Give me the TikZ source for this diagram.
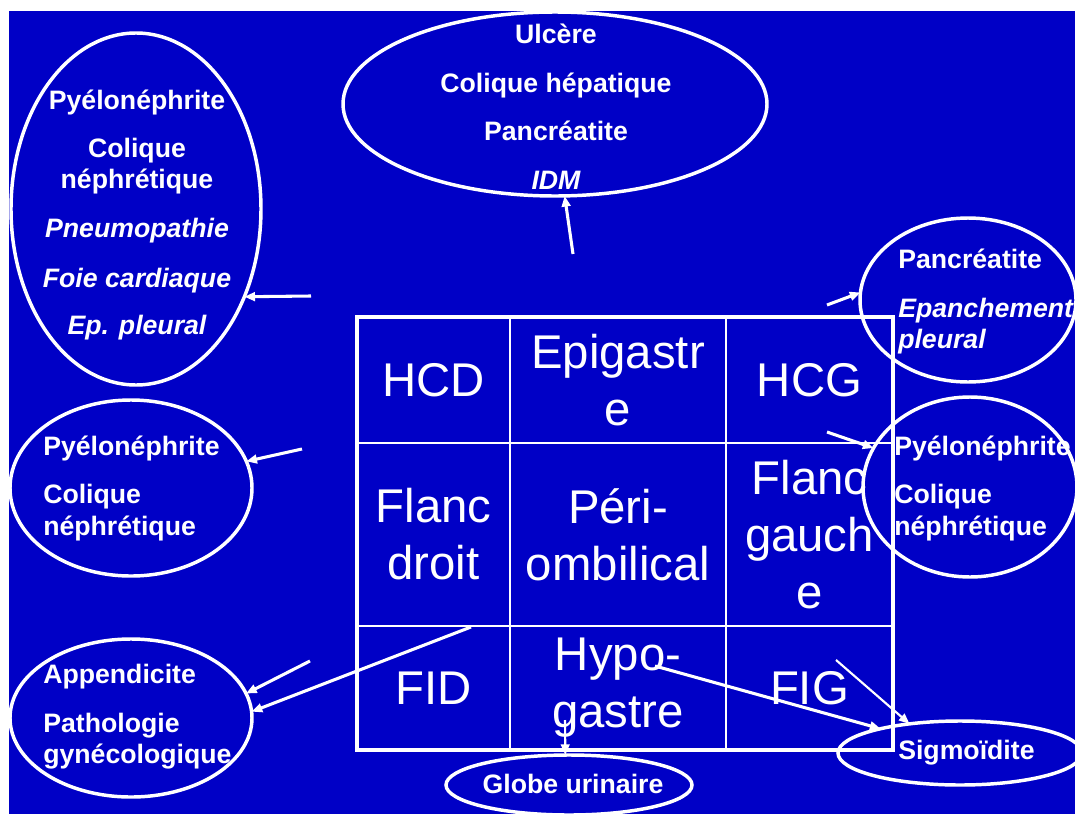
\documentclass[tikz,border=0pt]{standalone}
\usepackage{fontspec}
\setmainfont{Liberation Sans}
\usetikzlibrary{shapes.geometric,arrows.meta}
\definecolor{bg}{RGB}{0,0,198}
\begin{document}
\begin{tikzpicture}[x=0.75pt,y=-0.75pt,
  ell/.style={draw=white,line width=2.6pt,ellipse,inner sep=0pt,outer sep=0pt},
  lbl/.style={text=white,inner sep=0pt,font=\bfseries\fontsize{20}{24}\selectfont},
  lbli/.style={lbl,font=\bfseries\itshape\fontsize{20}{24}\selectfont},
  cell/.style={draw=white,line width=1.2pt,rectangle,inner sep=0pt,outer sep=0pt,text=white,align=center,font=\fontsize{35.5}{42.75}\selectfont},
  arr/.style={draw=white,line width=2.3pt,-{Triangle[length=8pt,width=6.5pt]}},
  arrthin/.style={arr,line width=1.6pt}]
\useasboundingbox (0,0) rectangle (1075,814);
\fill[white] (0,0) rectangle (1075,814);
\fill[bg] (9,11) rectangle (1075,814);

% ellipses
\node[ell,minimum width=187.5pt,minimum height=264pt] (ell1) at (136,209) {};
\node[ell,minimum width=318pt,minimum height=138pt] (ell2) at (555,104) {};
\node[ell,minimum width=162pt,minimum height=123pt] (ell3) at (968,300) {};
\node[ell,minimum width=160.5pt,minimum height=135pt] (ell4) at (970,487) {};
\node[ell,minimum width=181.5pt,minimum height=132pt] (ell5) at (131,488) {};
\node[ell,minimum width=181.5pt,minimum height=118.5pt] (ell6) at (131,718) {};
\node[ell,minimum width=184.5pt,minimum height=45pt] (ell7) at (569,785) {};
\node[ell,minimum width=183pt,minimum height=48pt] (ell8) at (960,753) {};

% ellipse texts
\node[lbl,anchor=base] (e1a) at (137,109) {Pyélonéphrite};
\node[lbl,anchor=base] (e1b) at (137,157) {Colique};
\node[lbl,anchor=base] (e1c) at (137,188) {néphrétique};
\node[lbli,anchor=base] (e1d) at (137,237) {Pneumopathie};
\node[lbli,anchor=base] (e1e) at (137,287) {Foie cardiaque};
\node[lbli,anchor=base] (e1f) at (137,334) {Ep. pleural};

\node[lbl,anchor=base] (e2a) at (556,43) {Ulcère};
\node[lbl,anchor=base] (e2b) at (556,92) {Colique hépatique};
\node[lbl,anchor=base] (e2c) at (556,140) {Pancréatite};
\node[lbli,anchor=base] (e2d) at (556,189) {IDM};

\node[lbl,anchor=base west] (e3a) at (898,268) {Pancréatite};
\node[lbli,anchor=base west] (e3b) at (898,317) {Epanchement};
\node[lbli,anchor=base west] (e3c) at (898,348) {pleural};

\node[lbl,anchor=base west] (e4a) at (894,455) {Pyélonéphrite};
\node[lbl,anchor=base west] (e4b) at (894,503) {Colique};
\node[lbl,anchor=base west] (e4c) at (894,535) {néphrétique};

\node[lbl,anchor=base west] (e5a) at (43,455) {Pyélonéphrite};
\node[lbl,anchor=base west] (e5b) at (43,503) {Colique};
\node[lbl,anchor=base west] (e5c) at (43,535) {néphrétique};

\node[lbl,anchor=base west] (e6a) at (43,683) {Appendicite};
\node[lbl,anchor=base west] (e6b) at (43,732) {Pathologie};
\node[lbl,anchor=base west] (e6c) at (43,763) {gynécologique};

\node[lbl,anchor=base] (e7a) at (573,793) {Globe urinaire};
\node[lbl,anchor=base west] (e8a) at (898,759) {Sigmoïdite};

% table
\node[cell,minimum width=114.75pt,minimum height=94.5pt] (c11) at (433.5,380) {HCD};
\node[cell,minimum width=162pt,minimum height=94.5pt] (c12) at (618,380) {Epigastr\\e};
\node[cell,minimum width=125.25pt,minimum height=94.5pt] (c13) at (809.5,380) {HCG};
\node[cell,minimum width=114.75pt,minimum height=137.25pt] (c21) at (433.5,534.5) {Flanc\\droit};
\node[cell,minimum width=162pt,minimum height=137.25pt] (c22) at (618,534.5) {Péri-\\ombilical};
\node[cell,minimum width=125.25pt,minimum height=137.25pt] (c23) at (809.5,534.5) {Flanc\\gauch\\e};
\node[cell,minimum width=114.75pt,minimum height=93pt] (c31) at (433.5,688) {FID};
\node[cell,minimum width=162pt,minimum height=93pt] (c32) at (618,688) {Hypo-\\gastre};
\node[cell,minimum width=125.25pt,minimum height=93pt] (c33) at (809.5,688) {FIG};
\draw[white,line width=2.4pt] (c11.north west) rectangle (c33.south east);

% arrow tails
\coordinate (t1) at (311,296);
\coordinate (t2) at (573,254);
\coordinate (t3) at (827,305);
\coordinate (t4) at (827,432);
\coordinate (t5) at (302,449);
\coordinate (t6) at (310,661);
\coordinate (t7) at (471,627);
\coordinate (t8) at (655,666);
\coordinate (t9) at (836,660);
\coordinate (t10) at (565,720);

\draw[arr] (t1) -- (ell1.-39);
\draw[arr] (t2) -- (ell2.-84);
\draw[arr] (t3) -- (ell3.176);
\draw[arr] (t4) -- (ell4.158);
\draw[arr] (t5) -- (ell5.13);
\draw[arr] (t6) -- (ell6.12);
\draw[arr] (t7) -- (ell6.3);
\draw[arr] (t8) -- (ell8.163);
\draw[arrthin] (t9) -- (ell8.150);
\draw[arrthin] (t10) -- (ell7.97);
\end{tikzpicture}
\end{document}
